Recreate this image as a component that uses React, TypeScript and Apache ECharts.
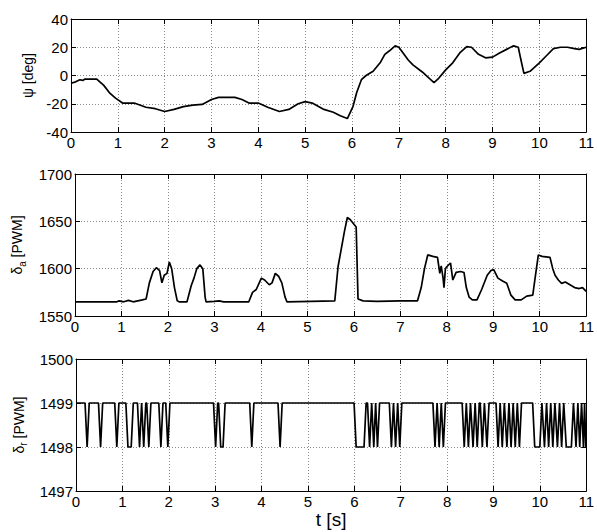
import React, { useEffect, useRef } from "react";
import * as echarts from "echarts";

// ψ [deg] heading
const psiT = [0, 0.1, 0.19, 0.25, 0.3, 0.55, 0.7, 0.83, 0.95, 1.1, 1.35, 1.6, 1.8, 2.0, 2.2, 2.4, 2.6, 2.8, 3.0, 3.15, 3.5, 3.65, 3.8, 4.0, 4.2, 4.45, 4.65, 4.85, 5.0, 5.15, 5.4, 5.6, 5.75, 5.9, 6.02, 6.1, 6.2, 6.3, 6.45, 6.6, 6.7, 6.8, 6.92, 7.0, 7.2, 7.3, 7.5, 7.65, 7.75, 7.85, 8.0, 8.15, 8.3, 8.45, 8.55, 8.7, 8.85, 9.0, 9.15, 9.3, 9.45, 9.55, 9.6, 9.67, 9.8, 10.0, 10.15, 10.3, 10.45, 10.6, 10.75, 10.85, 11];
const psiV = [-5.5, -4.5, -3, -3.5, -2.5, -2.5, -7, -12.5, -16, -19.5, -19.5, -22.5, -23.5, -25.5, -24, -22, -21, -20.5, -17, -15.5, -15.5, -17, -19.5, -19.5, -22.5, -25.5, -24, -20, -18.5, -19.5, -24, -26, -28.5, -30.5, -22, -12, -3, 0, 3, 9, 15, 17.5, 21, 20, 11, 7.5, 2.5, -2, -5, -2, 4, 9, 16, 20.5, 20, 15, 12.5, 13, 16, 18.5, 21, 20, 12, 1.5, 3, 9, 14, 19, 20, 20, 19, 18.5, 20];

// δa [PWM] aileron
const ailT = [0, 0.9, 0.95, 1.05, 1.15, 1.25, 1.35, 1.45, 1.53, 1.6, 1.68, 1.75, 1.82, 1.87, 1.92, 1.98, 2.03, 2.08, 2.14, 2.2, 2.24, 2.41, 2.5, 2.56, 2.62, 2.69, 2.75, 2.8, 2.82, 3.0, 3.1, 3.2, 3.74, 3.82, 3.9, 4.01, 4.08, 4.18, 4.24, 4.31, 4.38, 4.45, 4.52, 4.56, 5.59, 5.66, 5.8, 5.86, 5.92, 6.05, 6.09, 6.2, 6.5, 7.0, 7.37, 7.45, 7.52, 7.59, 7.7, 7.8, 7.85, 7.88, 7.92, 7.94, 7.97, 8.0, 8.08, 8.13, 8.2, 8.3, 8.37, 8.42, 8.48, 8.55, 8.65, 8.75, 8.87, 8.95, 9.01, 9.1, 9.2, 9.29, 9.38, 9.47, 9.6, 9.72, 9.85, 9.9, 9.97, 10.05, 10.22, 10.28, 10.33, 10.4, 10.47, 10.55, 10.65, 10.75, 10.85, 10.92, 11];
const ailV = [1565, 1565, 1566, 1565, 1566.5, 1565, 1566, 1567, 1568, 1585, 1597, 1601, 1598, 1585, 1593, 1595, 1607, 1600, 1580, 1566, 1565, 1565, 1582, 1590, 1600, 1604, 1600, 1570, 1565, 1565.5, 1566, 1565, 1565, 1575, 1578, 1590, 1588, 1583, 1585, 1595, 1592, 1585, 1570, 1565, 1566, 1602, 1640, 1654, 1652, 1644, 1568, 1566, 1565.5, 1566, 1566, 1580, 1600, 1614.5, 1613, 1612, 1595, 1603, 1590, 1580, 1600, 1602, 1606, 1588, 1596, 1597, 1596, 1580, 1570, 1567, 1567, 1578, 1593, 1598, 1599, 1590, 1587, 1584.5, 1572, 1567, 1567, 1571, 1572, 1590, 1614.5, 1613, 1612, 1600, 1593, 1588, 1584.5, 1586, 1583, 1580, 1579, 1580, 1576];

// δr [PWM] rudder: nominal level, low level, single-sample drops, longer low intervals
const rudHigh = 1499;
const rudLow = 1498;
const rudSpikes = [0.24, 0.53, 0.88, 1.37, 1.46, 1.57, 1.83, 1.98, 3.01, 3.79, 4.4, 6.33, 6.42, 6.5, 6.8, 6.89, 6.98, 7.74, 7.83, 7.92, 8.37, 8.46, 8.56, 8.65, 8.76, 8.86, 9.1, 9.19, 9.29, 9.38, 9.47, 9.56, 10.1, 10.19, 10.28, 10.38, 10.47, 10.78, 10.86, 10.94];
const rudIntervals = [[1.12, 1.19], [3.12, 3.17], [6.04, 6.21], [9.89, 10.0], [10.57, 10.68], [10.99, 11]];

const xMin = 0, xMax = 11, xStep = 1;
const psiAxis = [-40, 40, 20];
const ailAxis = [1550, 1700, 50];
const rudAxis = [1497, 1500, 1];

const FONT = "Liberation Sans, Arial, sans-serif";

function rudderPoints(): number[][] {
  const segs: number[][] = [
    ...rudSpikes.map((t) => [t, t]),
    ...rudIntervals.map((iv) => [iv[0], iv[1]]),
  ].sort((a, b) => a[0] - b[0]);
  const hw = 0.045;
  const pts: number[][] = [[xMin, rudHigh]];
  segs.forEach((s, i) => {
    const prev = i > 0 ? segs[i - 1] : null;
    const next = i < segs.length - 1 ? segs[i + 1] : null;
    let down = s[0] - hw;
    if (prev) down = Math.max(down, (prev[1] + s[0]) / 2);
    pts.push([down, rudHigh]);
    pts.push([s[0], rudLow]);
    if (s[1] > s[0]) pts.push([s[1], rudLow]);
    if (s[1] < xMax) {
      let up = s[1] + hw;
      if (next) up = Math.min(up, (s[1] + next[0]) / 2);
      pts.push([up, rudHigh]);
    }
  });
  const last = pts[pts.length - 1];
  if (last[0] < xMax) pts.push([xMax, last[1]]);
  return pts;
}

export default function App() {
  const ref = useRef<HTMLDivElement>(null);
  useEffect(() => {
    if (!ref.current) return;
    const chart = echarts.init(ref.current, null, { renderer: "svg" });
    const grids = [
      { left: 71, right: 7, top: 19, height: 113 },
      { left: 75, right: 7, top: 174, height: 142 },
      { left: 76, right: 7, top: 359, height: 132 },
    ];
    const axisLine = { show: true, onZero: false, lineStyle: { color: "#000", width: 1 } };
    const tick = { show: true, inside: true, length: 5, lineStyle: { color: "#000", width: 1 } };
    const split = { show: true, lineStyle: { color: "#8a8a8a", width: 1, type: [1, 2] } };
    const plain = (v: number) => String(v);
    const xAxes: any[] = [];
    const yAxes: any[] = [];
    const yDefs = [psiAxis, ailAxis, rudAxis];
    const names = [
      "{m|ψ [deg]}",
      "{m|δ}{s|a}{m| [PWM]}",
      "{m|δ}{s|r}{m| [PWM]}",
    ];
    const gaps = [28, 48, 47];
    const rich = {
      m: { fontSize: 14, fontFamily: FONT, color: "#000", lineHeight: 20, verticalAlign: "middle" },
      s: { fontSize: 10, fontFamily: FONT, color: "#000", lineHeight: 10, verticalAlign: "bottom" },
    };
    grids.forEach((g, i) => {
      xAxes.push({
        gridIndex: i, type: "value", min: xMin, max: xMax, interval: xStep,
        axisLine, axisTick: tick, splitLine: split,
        axisLabel: { fontSize: 15, fontFamily: FONT, color: "#000", margin: 3, formatter: plain },
        ...(i === 2
          ? {
              name: "t [s]", nameLocation: "middle", nameGap: 16,
              nameTextStyle: { fontSize: 19, fontFamily: FONT, color: "#000" },
            }
          : {}),
      });
      xAxes.push({
        gridIndex: i, type: "value", min: xMin, max: xMax, interval: xStep, position: "top",
        axisLine, axisTick: tick, splitLine: { show: false }, axisLabel: { show: false },
      });
      const d = yDefs[i];
      yAxes.push({
        gridIndex: i, type: "value", min: d[0], max: d[1], interval: d[2],
        axisLine, axisTick: tick, splitLine: split,
        axisLabel: { fontSize: 15, fontFamily: FONT, color: "#000", margin: 3, formatter: plain },
        name: names[i], nameLocation: "middle", nameGap: gaps[i], nameRotate: 90,
        nameTextStyle: { rich, fontSize: 14, fontFamily: FONT, color: "#000" },
      });
      yAxes.push({
        gridIndex: i, type: "value", min: d[0], max: d[1], interval: d[2], position: "right",
        axisLine, axisTick: tick, splitLine: { show: false }, axisLabel: { show: false },
      });
    });
    const lineStyle = { color: "#000", width: 1.7 };
    chart.setOption({
      animation: false,
      backgroundColor: "#fff",
      grid: grids,
      xAxis: xAxes,
      yAxis: yAxes,
      series: [
        {
          type: "line", xAxisIndex: 0, yAxisIndex: 0, showSymbol: false, symbol: "none",
          lineStyle, data: psiT.map((t, k) => [t, psiV[k]]),
        },
        {
          type: "line", xAxisIndex: 2, yAxisIndex: 2, showSymbol: false, symbol: "none",
          lineStyle, data: ailT.map((t, k) => [t, ailV[k]]),
        },
        {
          type: "line", xAxisIndex: 4, yAxisIndex: 4, showSymbol: false, symbol: "none",
          lineStyle, data: rudderPoints(),
        },
      ],
    });
    return () => chart.dispose();
  }, []);
  return (
    <div
      ref={ref}
      style={{ position: "fixed", left: 0, top: 0, width: 597, height: 532, background: "#fff" }}
    />
  );
}
